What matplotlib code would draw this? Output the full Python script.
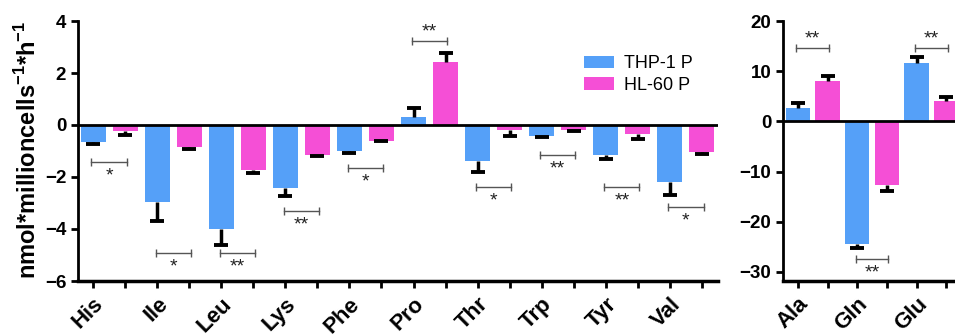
import numpy as np
import matplotlib
matplotlib.use("Agg")
import matplotlib.pyplot as plt

plt.rcParams["font.family"] = ["Liberation Sans", "DejaVu Sans"]
plt.rcParams["mathtext.fontset"] = "custom"
plt.rcParams["mathtext.rm"] = "Liberation Sans"
plt.rcParams["mathtext.bf"] = "Liberation Sans:bold"

# left panel data
aa_left = ["His", "Ile", "Leu", "Lys", "Phe", "Pro", "Thr", "Trp", "Tyr", "Val"]
thp_left = [-0.65, -2.95, -4.0, -2.42, -0.99, 0.3, -1.40, -0.41, -1.15, -2.2]
thp_left_err = [0.1, 0.73, 0.6, 0.3, 0.1, 0.34, 0.4, 0.05, 0.17, 0.49]
hl_left = [-0.25, -0.84, -1.74, -1.15, -0.6, 2.41, -0.19, -0.19, -0.36, -1.03]
hl_left_err = [0.13, 0.09, 0.09, 0.05, 0.03, 0.35, 0.23, 0.03, 0.18, 0.1]
sig_left = ["*", "*", "**", "**", "*", "**", "*", "**", "**", "*"]
sig_left_y = [-1.41, -4.91, -4.91, -3.31, -1.67, 3.23, -2.37, -1.15, -2.37, -3.14]

# right panel data
aa_right = ["Ala", "Gln", "Glu"]
thp_right = [2.64, -24.5, 11.7]
thp_right_err = [0.95, 0.7, 1.1]
hl_right = [7.95, -12.7, 4.1]
hl_right_err = [1.1, 1.2, 0.7]
sig_right = ["**", "**", "**"]
sig_right_y = [14.7, -27.5, 14.7]

BLUE = "#55a0f8"
PINK = "#f54fd6"


def drawPanel(ax, names, thp, thp_err, hl, hl_err, sig, sig_y, width):
    n = len(names)
    x_thp = np.arange(n) * 2
    x_hl = x_thp + 1
    ax.bar(x_thp, thp, width=width, color=BLUE, label="THP-1 P", zorder=2)
    ax.bar(x_hl, hl, width=width, color=PINK, label="HL-60 P", zorder=2)

    # one-sided error bars, pointing away from zero
    for xs, vals, errs in [(x_thp, thp, thp_err), (x_hl, hl, hl_err)]:
        vals = np.array(vals)
        errs = np.array(errs)
        lo = np.where(vals < 0, errs, 0)
        hi = np.where(vals >= 0, errs, 0)
        ax.errorbar(xs, vals, yerr=[lo, hi], fmt="none", ecolor="black",
                    elinewidth=2.5, capsize=0, zorder=3)
        tips = np.where(vals < 0, vals - errs, vals + errs)
        ax.plot(xs, tips, ls="none", marker="_", ms=10, mew=2.8,
                color="black", zorder=3)

    ax.axhline(0, color="black", lw=2, zorder=4)

    # significance brackets
    for i in range(n):
        x0, x1 = x_thp[i] - 0.05, x_hl[i] + 0.05
        y = sig_y[i]
        ax.plot([x0, x1], [y, y], color="#555555", lw=1, zorder=3)
        ax.plot([x0, x1], [y, y], ls="none", marker="|", ms=6,
                color="#555555", mew=1)
        off = 6.5 if sig_y[i] > 0 else -10
        ax.annotate(sig[i], ((x0 + x1) / 2, y), xytext=(0, off),
                    textcoords="offset points", ha="center", va="center",
                    fontsize=14, color="#222222")

    ticks = np.arange(2 * n)
    labels = []
    for nm in names:
        labels += [nm, ""]
    ax.set_xticks(ticks)
    ax.set_xticklabels(labels, rotation=45, ha="right", rotation_mode="anchor",
                       fontsize=16, fontweight="bold")
    ax.spines["top"].set_visible(False)
    ax.spines["right"].set_visible(False)
    ax.spines["left"].set_linewidth(2)
    ax.spines["bottom"].set_linewidth(2.5)
    ax.tick_params(axis="both", width=2, length=5)
    ax.tick_params(axis="x", pad=4)


fig = plt.figure(figsize=(9.55, 3.35), dpi=100)

ax1 = fig.add_axes([78 / 955, 54 / 335, 640 / 955, 260 / 335])
drawPanel(ax1, aa_left, thp_left, thp_left_err, hl_left, hl_left_err,
          sig_left, sig_left_y, 0.78)
ax1.set_xlim(-0.47, 19.5)
ax1.set_ylim(-6, 4)
ax1.set_yticks([-6, -4, -2, 0, 2, 4])
for t in ax1.get_yticklabels():
    t.set_fontweight("bold")
    t.set_fontsize(13.5)
ax1.legend(loc="upper left", bbox_to_anchor=(0.765, 0.93), frameon=False,
           fontsize=13, handlelength=1.65, handleheight=0.7, labelspacing=0.25,
           handletextpad=0.6)

ax2 = fig.add_axes([783 / 955, 54 / 335, 178 / 955, 260 / 335])
drawPanel(ax2, aa_right, thp_right, thp_right_err, hl_right, hl_right_err,
          sig_right, sig_right_y, 0.81)
ax2.set_xlim(-0.5, 5.5)
ax2.set_ylim(-31.8, 20)
ax2.set_yticks([-30, -20, -10, 0, 10, 20])
for t in ax2.get_yticklabels():
    t.set_fontweight("bold")
    t.set_fontsize(13.5)

fig.text(28 / 955, 1 - 150 / 335, r"nmol*millioncells$^{\mathbf{-1}}$*h$^{\mathbf{-1}}$",
         rotation=90, ha="center", va="center", fontsize=17, fontweight="bold")

fig.savefig("out.png", dpi=100)
